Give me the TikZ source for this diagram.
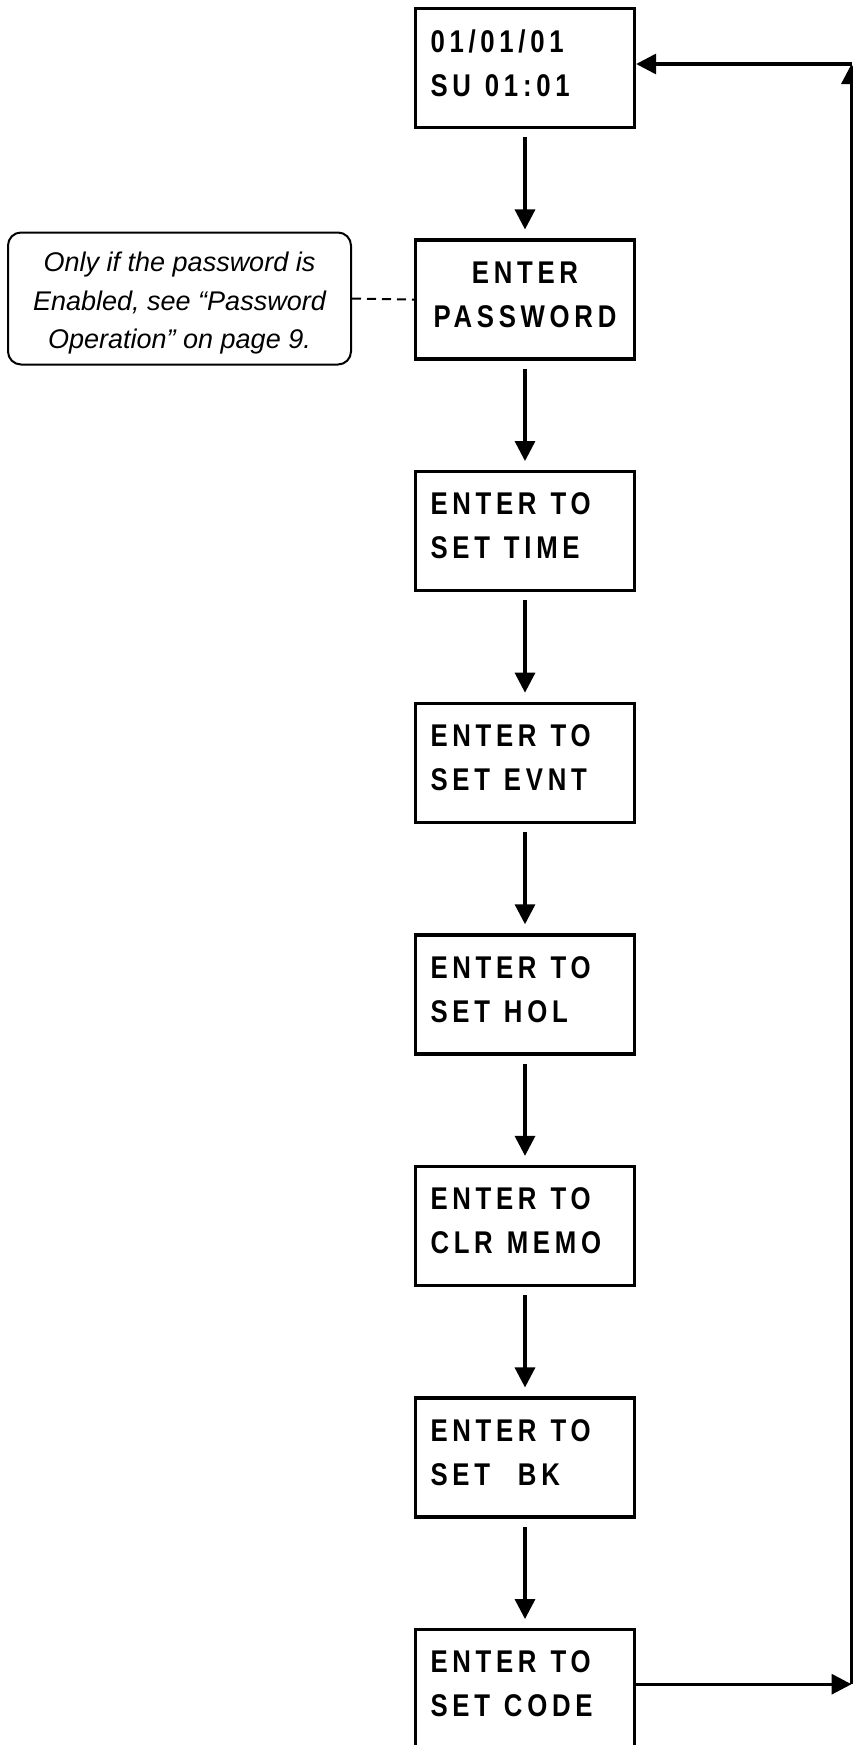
\documentclass[tikz,border=0pt]{standalone}
\usepackage{fontspec}
\setmainfont{Liberation Sans}
\newfontfamily\lcdfont{Liberation Sans}[FakeStretch=0.82,LetterSpace=15]
\newcommand{\notestrut}{\rule{0pt}{28.7pt}}
\usepackage{tikz}
\usetikzlibrary{shapes,arrows.meta}
\tikzstyle{block} = [rectangle, draw, line width=3.3pt, text width=189pt, inner xsep=15pt,
    minimum width=219pt, minimum height=119pt, align=left,
    font=\lcdfont\bfseries\fontsize{31.4}{44}\selectfont,
    execute at begin node={\spaceskip=14pt\relax},
    execute at end node={\rule[-10.5pt]{0pt}{10.5pt}}]
\tikzstyle{note} = [rectangle, draw, line width=2pt, rounded corners=13pt,
    minimum width=343pt, minimum height=132pt, align=center,
    font=\itshape\fontsize{27}{38.5}\selectfont]
\tikzstyle{line} = [draw, line width=3.3pt, -{Triangle[length=20pt,width=20pt]}, shorten <=8pt, shorten >=9pt]
\tikzstyle{feedback} = [draw, line width=3.3pt, -{Triangle[length=20pt,width=20pt]}]
\tikzstyle{dashline} = [draw, line width=2pt, dash pattern=on 9pt off 6pt]

\begin{document}
\begin{tikzpicture}[x=1pt, y=1pt, node distance=231.6pt, auto]
    \useasboundingbox (0,0) rectangle (853,-1745);
    % Place nodes
    \node [block] (clock) at (525,-68) {01/01/01\\SU 01:01};
    \node [block, align=center, below of=clock] (password) {ENTER\\PASSWORD};
    \node [block, below of=password] (time) {ENTER TO\\SET TIME};
    \node [block, below of=time] (event) {ENTER TO\\SET EVNT};
    \node [block, below of=event] (holiday) {ENTER TO\\SET HOL};
    \node [block, below of=holiday] (memo) {ENTER TO\\CLR MEMO};
    \node [block, below of=memo] (backlight) {ENTER TO\\SET~~BK};
    \node [block, below of=backlight] (code) {ENTER TO\\SET CODE};
    \node [note] (pwnote) at (179.5,-298.5) {\notestrut Only if the password is\\Enabled, see “Password\\Operation” on page 9.};
    % Return path
    \coordinate (rail) at (851.5,0);
    \coordinate (back) at ([yshift=4pt]clock.east);
    \coordinate (out) at ([yshift=5pt]code.east);

  \path [line] (clock) -- (password);
  \path [line] (password) -- (time);
  \path [line] (time) -- (event);
  \path [line] (event) -- (holiday);
  \path [line] (holiday) -- (memo);
  \path [line] (memo) -- (backlight);
  \path [line] (backlight) -- (code);
  \path [dashline] (pwnote.east) -- (password.west);
  \path [feedback] (out) -- (out -| rail);
  \path [feedback] (out -| rail) -- (back -| rail);
  \path [feedback] (back -| rail) -- (back);
\end{tikzpicture}
\end{document}
